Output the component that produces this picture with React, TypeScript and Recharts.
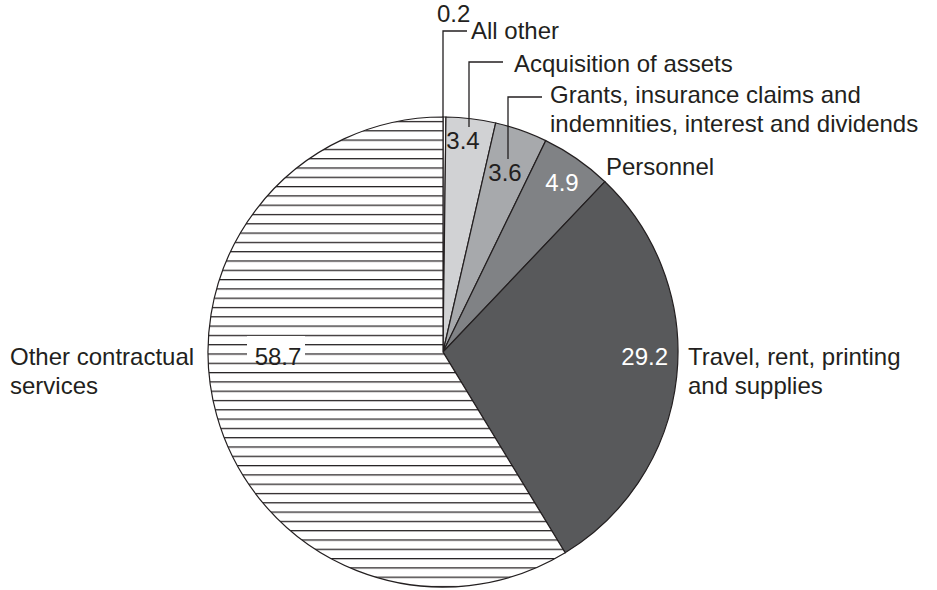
import React from "react";
import { Pie, PieChart, Cell } from "recharts";

// shares of spending, percent, clockwise from 12 o'clock
const categories = [
  "All other",
  "Acquisition of assets",
  "Grants, insurance claims and indemnities, interest and dividends",
  "Personnel",
  "Travel, rent, printing and supplies",
  "Other contractual services",
];
const shares = [0.2, 3.4, 3.6, 4.9, 29.2, 58.7];
const valueLabels = ["0.2", "3.4", "3.6", "4.9", "29.2", "58.7"];
const nameLines = [
  ["All other"],
  ["Acquisition of assets"],
  ["Grants, insurance claims and", "indemnities, interest and dividends"],
  ["Personnel"],
  ["Travel, rent, printing", "and supplies"],
  ["Other contractual", "services"],
];

const fills = ["#ffffff", "#d1d2d4", "#a7a9ac", "#808285", "#58595b", "url(#hatch)"];
const valueColors = ["#231f20", "#231f20", "#231f20", "#ffffff", "#ffffff", "#231f20"];

// label placement, offsets from the pie centre
const layout = [
  { v: [-6, -330], va: "start", n: [28, -313], lead: [[0, -235], [0, -321], [24, -321]] },
  { v: [20, -203], va: "middle", n: [71, -280], lead: [[26, -225], [26, -290], [60, -290]] },
  { v: [62, -171], va: "middle", n: [107, -249], lead: [[65, -193], [65, -255], [99, -255]] },
  { v: [119, -161], va: "middle", n: [163, -177] },
  { v: [225, 13], va: "end", n: [245, 13] },
  { v: [-165, 13], va: "middle", n: [-433, 13], box: [-196, -4, 58, 25] },
];

const FONT = "'Liberation Sans', Arial, Helvetica, sans-serif";
const FS = 24;
const LINE = 29;

const data = categories.map((c, i) => ({ name: c, value: shares[i] }));

function renderLabel(props: any) {
  const { cx, cy, index } = props;
  const l = layout[index];
  return (
    <g key={`lab-${index}`}>
      {l.lead && (
        <polyline
          points={l.lead.map(([x, y]) => `${cx + x},${cy + y}`).join(" ")}
          fill="none"
          stroke="#231f20"
          strokeWidth={1.3}
        />
      )}
      {l.box && (
        <rect x={cx + l.box[0]} y={cy + l.box[1] - 12} width={l.box[2]} height={l.box[3]} fill="#fff" />
      )}
      <text
        x={cx + l.v[0]}
        y={cy + l.v[1]}
        textAnchor={l.va}
        fill={valueColors[index]}
        fontSize={FS}
        fontFamily={FONT}
      >
        {valueLabels[index]}
      </text>
      <text x={cx + l.n[0]} y={cy + l.n[1]} fill="#231f20" fontSize={FS} fontFamily={FONT}>
        {nameLines[index].map((t, k) => (
          <tspan key={k} x={cx + l.n[0]} dy={k === 0 ? 0 : LINE}>
            {t}
          </tspan>
        ))}
      </text>
    </g>
  );
}

export default function App() {
  return (
    <div style={{ position: "absolute", left: 0, top: 0, background: "#fff" }}>
      <PieChart width={937} height={590} margin={{ top: 0, right: 0, bottom: 0, left: 0 }}>
        <defs>
          <pattern id="hatch" patternUnits="userSpaceOnUse" width={20} height={9.3}>
            <rect width={20} height={9.3} fill="#fff" />
            <line x1={0} x2={20} y1={0.6} y2={0.6} stroke="#231f20" strokeWidth={1.3} />
          </pattern>
        </defs>
        <Pie
          data={data}
          dataKey="value"
          nameKey="name"
          cx={443}
          cy={352}
          outerRadius={235}
          startAngle={90}
          endAngle={-270}
          stroke="#231f20"
          strokeWidth={1.2}
          label={renderLabel}
          labelLine={false}
          isAnimationActive={false}
        >
          {data.map((d, i) => (
            <Cell key={d.name} fill={fills[i]} />
          ))}
        </Pie>
      </PieChart>
    </div>
  );
}
